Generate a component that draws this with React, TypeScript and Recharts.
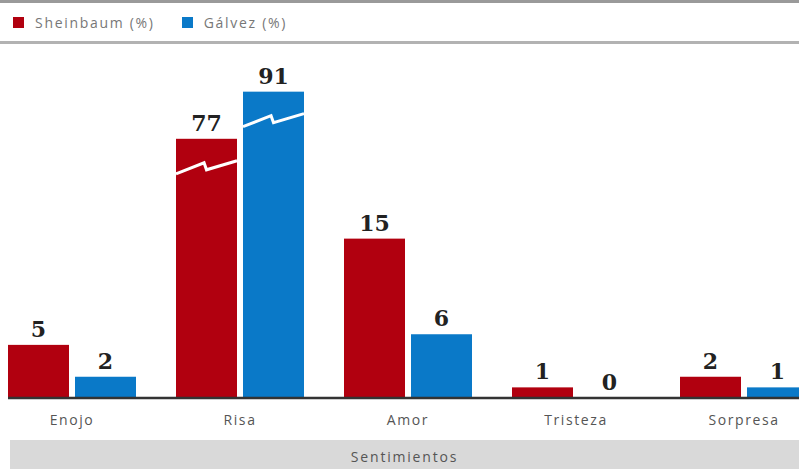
import { Bar, BarChart, LabelList, Legend, ReferenceLine, XAxis, YAxis } from 'recharts'

const categories = ['Enojo', 'Risa', 'Amor', 'Tristeza', 'Sorpresa']
const sheinbaum = [5, 77, 15, 1, 2]
const galvez = [2, 91, 6, 0, 1]
const seriesOrder = ['sheinbaum', 'galvez']

const data = categories.map((name, i) => ({
  name,
  sheinbaum: sheinbaum[i],
  galvez: galvez[i]
}))

const RED = '#b1000f'
const BLUE = '#0a79c8'

// bars above BREAK_AT are drawn on a compressed scale (broken bars)
const BREAK_AT = 30
const FINE_MAX = 32
const COARSE_MAX = 101

function brokenScale() {
  let dom: number[] = [0, 1]
  let rng: number[] = [0, 1]
  const scale: any = (v: number) => {
    const max = v > BREAK_AT ? COARSE_MAX : FINE_MAX
    return rng[0] + (v / max) * (rng[1] - rng[0])
  }
  scale.domain = (d?: number[]) => {
    if (d === undefined) return dom
    dom = d
    return scale
  }
  scale.range = (r?: number[]) => {
    if (r === undefined) return rng
    rng = r
    return scale
  }
  scale.copy = () => brokenScale().domain(dom).range(rng)
  scale.ticks = () => [0]
  scale.nice = () => scale
  scale.clamp = () => scale
  return scale
}

function BrokenBar(props: any) {
  const { x, y, width, height, fill, v } = props
  const h = Math.max(height || 0, 0)
  return (
    <g>
      <rect x={x} y={y} width={width} height={h} fill={fill} />
      {v > BREAK_AT && (
        <polyline
          points={`${x},${y + 35} ${x + width * 0.46},${y + 24} ${x + width * 0.5},${y + 31} ${x + width},${y + 22}`}
          fill="none"
          stroke="#fff"
          strokeWidth={3}
        />
      )}
    </g>
  )
}

const sans = '"Open Sans", sans-serif'

function LegendBox({ payload }: any) {
  const items = [...(payload || [])].sort(
    (a: any, b: any) => seriesOrder.indexOf(a.dataKey) - seriesOrder.indexOf(b.dataKey)
  )
  return (
    <div
      style={{
        height: 38,
        borderTop: '3px solid #9a9a9a',
        borderBottom: '3px solid #b2b2b2',
        display: 'flex',
        alignItems: 'center',
        paddingLeft: 13,
        fontFamily: sans,
        fontSize: 14,
        letterSpacing: 1.7,
        color: '#777'
      }}>
      {items.map((p: any) => (
        <div key={p.value} style={{ display: 'flex', alignItems: 'center', marginRight: 27 }}>
          <span style={{ width: 11, height: 11, background: p.color, marginRight: 11 }} />
          <span>{p.value}</span>
        </div>
      ))}
    </div>
  )
}

export default function App() {
  return (
    <div style={{ position: 'relative', width: 799, height: 469, overflow: 'hidden', background: '#fff' }}>
      <style>{'body{margin:0}'}</style>
      <div style={{ position: 'absolute', left: -12, top: 0 }}>
        <BarChart
          width={840}
          height={469}
          data={data}
          barSize={61}
          barGap={6}
          margin={{ top: 14, right: 0, left: 0, bottom: 41 }}>
          <Legend
            verticalAlign="top"
            content={<LegendBox />}
            wrapperStyle={{ top: 0, left: 12, width: 799 }}
          />
          <XAxis
            dataKey="name"
            axisLine={false}
            tickLine={false}
            tickSize={6}
            tickMargin={11}
            height={30}
            tick={{ fill: '#555', fontSize: 14, fontFamily: sans, letterSpacing: 1.6 }}
          />
          <YAxis hide type="number" domain={[0, 100]} scale={brokenScale()} />
          <Bar
            dataKey="sheinbaum"
            name="Sheinbaum (%)"
            fill={RED}
            isAnimationActive={false}
            shape={(p: any) => <BrokenBar {...p} v={p.payload.sheinbaum} />}>
            <LabelList
              dataKey="sheinbaum"
              position="top"
              offset={8}
              fill="#222"
              fontSize={22}
              fontFamily="DejaVu Serif"
              fontWeight="bold"
            />
          </Bar>
          <Bar
            dataKey="galvez"
            name="Gálvez (%)"
            fill={BLUE}
            isAnimationActive={false}
            shape={(p: any) => <BrokenBar {...p} v={p.payload.galvez} />}>
            <LabelList
              dataKey="galvez"
              position="top"
              offset={8}
              fill="#222"
              fontSize={22}
              fontFamily="DejaVu Serif"
              fontWeight="bold"
            />
          </Bar>
          <ReferenceLine y={0} stroke="#333" strokeWidth={2.5} strokeDasharray="0 20 5000" />
        </BarChart>
      </div>
      <div
        style={{
          position: 'absolute',
          left: 10,
          top: 440,
          width: 789,
          height: 29,
          background: '#d9d9d9',
          textAlign: 'center',
          fontFamily: sans,
          fontSize: 14,
          letterSpacing: 1.8,
          color: '#555',
          lineHeight: '33px'
        }}>
        Sentimientos
      </div>
    </div>
  )
}
